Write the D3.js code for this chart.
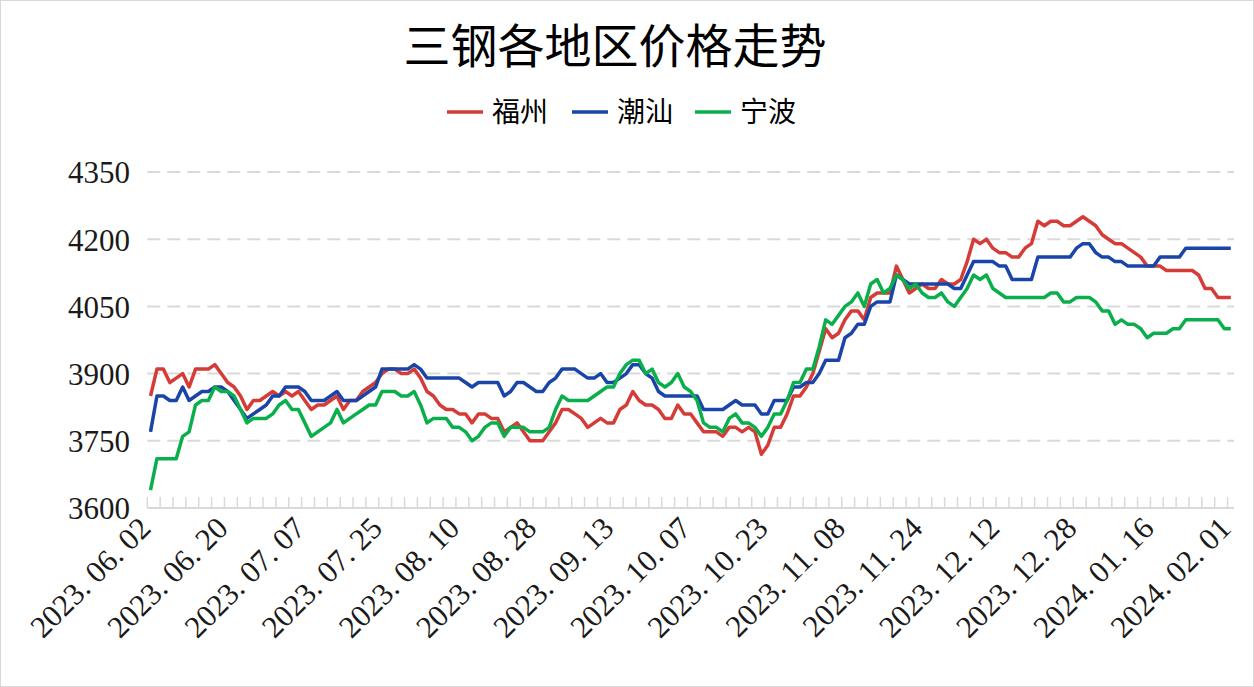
<!DOCTYPE html>
<html>
<head>
<meta charset="utf-8">
<script src="https://cdn.jsdelivr.net/npm/d3@7"></script>
<style>
  body { margin: 0; background: #fff; }
  svg { display: block; }
</style>
</head>
<body>
<svg id="chart"></svg>
<script>
// trading days shown on the category axis
const dates = [
  '2023.06.02','2023.06.05','2023.06.06','2023.06.07','2023.06.08','2023.06.09','2023.06.12','2023.06.13','2023.06.14','2023.06.15',
  '2023.06.16','2023.06.19','2023.06.20','2023.06.21','2023.06.25','2023.06.26','2023.06.27','2023.06.28','2023.06.29','2023.06.30',
  '2023.07.03','2023.07.04','2023.07.05','2023.07.06','2023.07.07','2023.07.10','2023.07.11','2023.07.12','2023.07.13','2023.07.14',
  '2023.07.17','2023.07.18','2023.07.19','2023.07.20','2023.07.21','2023.07.24','2023.07.25','2023.07.26','2023.07.27','2023.07.28',
  '2023.07.31','2023.08.01','2023.08.02','2023.08.03','2023.08.04','2023.08.07','2023.08.08','2023.08.09','2023.08.10','2023.08.11',
  '2023.08.14','2023.08.15','2023.08.16','2023.08.17','2023.08.18','2023.08.21','2023.08.22','2023.08.23','2023.08.24','2023.08.25',
  '2023.08.28','2023.08.29','2023.08.30','2023.08.31','2023.09.01','2023.09.04','2023.09.05','2023.09.06','2023.09.07','2023.09.08',
  '2023.09.11','2023.09.12','2023.09.13','2023.09.14','2023.09.15','2023.09.18','2023.09.19','2023.09.20','2023.09.21','2023.09.22',
  '2023.09.25','2023.09.26','2023.09.27','2023.09.28','2023.10.07','2023.10.08','2023.10.09','2023.10.10','2023.10.11','2023.10.12',
  '2023.10.13','2023.10.16','2023.10.17','2023.10.18','2023.10.19','2023.10.20','2023.10.23','2023.10.24','2023.10.25','2023.10.26',
  '2023.10.27','2023.10.30','2023.10.31','2023.11.01','2023.11.02','2023.11.03','2023.11.06','2023.11.07','2023.11.08','2023.11.09',
  '2023.11.10','2023.11.13','2023.11.14','2023.11.15','2023.11.16','2023.11.17','2023.11.20','2023.11.21','2023.11.22','2023.11.23',
  '2023.11.24','2023.11.27','2023.11.28','2023.11.29','2023.11.30','2023.12.01','2023.12.04','2023.12.05','2023.12.06','2023.12.07',
  '2023.12.08','2023.12.11','2023.12.12','2023.12.13','2023.12.14','2023.12.15','2023.12.18','2023.12.19','2023.12.20','2023.12.21',
  '2023.12.22','2023.12.25','2023.12.26','2023.12.27','2023.12.28','2023.12.29','2024.01.02','2024.01.03','2024.01.04','2024.01.05',
  '2024.01.08','2024.01.09','2024.01.10','2024.01.11','2024.01.12','2024.01.15','2024.01.16','2024.01.17','2024.01.18','2024.01.19',
  '2024.01.22','2024.01.23','2024.01.24','2024.01.25','2024.01.26','2024.01.29','2024.01.30','2024.01.31','2024.02.01'
];

// 福州
const fuzhou = [
  3850,3910,3910,3880,3890,3900,3870,3910,3910,3910,3920,3900,3880,3870,3850,3820,3840,3840,3850,3860,
  3850,3860,3850,3860,3840,3820,3830,3830,3840,3850,3820,3840,3840,3860,3870,3880,3900,3910,3910,3900,
  3900,3910,3890,3860,3850,3830,3820,3820,3810,3810,3790,3810,3810,3800,3800,3770,3780,3790,3770,3750,
  3750,3750,3770,3790,3820,3820,3810,3800,3780,3790,3800,3790,3790,3820,3830,3860,3840,3830,3830,3820,
  3800,3800,3830,3810,3810,3790,3770,3770,3770,3760,3780,3780,3770,3780,3770,3720,3740,3780,3780,3810,
  3850,3850,3870,3900,3950,4000,3980,3990,4020,4040,4040,4020,4070,4080,4080,4080,4140,4110,4080,4090,
  4100,4090,4090,4110,4100,4100,4110,4150,4200,4190,4200,4180,4170,4170,4160,4160,4180,4190,4240,4230,
  4240,4240,4230,4230,4240,4250,4240,4230,4210,4200,4190,4190,4180,4170,4160,4140,4140,4140,4130,4130,
  4130,4130,4130,4120,4090,4090,4070,4070,4070
];

// 潮汕
const chaoshan = [
  3770,3850,3850,3840,3840,3870,3840,3850,3860,3860,3870,3870,3860,3840,3820,3800,3810,3820,3830,3850,
  3850,3870,3870,3870,3860,3840,3840,3840,3850,3860,3840,3840,3840,3850,3860,3870,3910,3910,3910,3910,
  3910,3920,3910,3890,3890,3890,3890,3890,3890,3880,3870,3880,3880,3880,3880,3850,3860,3880,3880,3870,
  3860,3860,3880,3890,3910,3910,3910,3900,3890,3890,3900,3880,3880,3890,3900,3920,3920,3900,3890,3860,
  3850,3850,3850,3850,3850,3850,3820,3820,3820,3820,3830,3840,3830,3830,3830,3810,3810,3840,3840,3840,
  3870,3870,3880,3880,3900,3930,3930,3930,3980,3990,4010,4010,4050,4060,4060,4060,4120,4110,4100,4100,
  4100,4100,4100,4100,4100,4090,4090,4120,4150,4150,4150,4150,4140,4140,4110,4110,4110,4110,4160,4160,
  4160,4160,4160,4160,4180,4190,4190,4170,4160,4160,4150,4150,4140,4140,4140,4140,4140,4160,4160,4160,
  4160,4180,4180,4180,4180,4180,4180,4180,4180
];

// 宁波
const ningbo = [
  3640,3710,3710,3710,3710,3760,3770,3830,3840,3840,3870,3860,3860,3850,3820,3790,3800,3800,3800,3810,
  3830,3840,3820,3820,3790,3760,3770,3780,3790,3820,3790,3800,3810,3820,3830,3830,3860,3860,3860,3850,
  3850,3860,3830,3790,3800,3800,3800,3780,3780,3770,3750,3760,3780,3790,3790,3760,3780,3780,3780,3770,
  3770,3770,3780,3820,3850,3840,3840,3840,3840,3850,3860,3870,3870,3900,3920,3930,3930,3900,3910,3880,
  3870,3880,3900,3870,3860,3840,3790,3780,3780,3770,3800,3810,3790,3790,3780,3760,3780,3810,3810,3840,
  3880,3880,3910,3910,3960,4020,4010,4030,4050,4060,4080,4050,4100,4110,4080,4090,4120,4110,4090,4100,
  4080,4070,4070,4080,4060,4050,4070,4090,4120,4110,4120,4090,4080,4070,4070,4070,4070,4070,4070,4070,
  4080,4080,4060,4060,4070,4070,4070,4060,4040,4040,4010,4020,4010,4010,4000,3980,3990,3990,3990,4000,
  4000,4020,4020,4020,4020,4020,4020,4000,4000
];

const yTicks = [3600, 3750, 3900, 4050, 4200, 4350];

const series = [
  { name: '福州', values: fuzhou, color: '#d63c37' },
  { name: '潮汕', values: chaoshan, color: '#1a45a8' },
  { name: '宁波', values: ningbo, color: '#0aaf4c' }
];

const W = 1254, H = 687;
const plot = { left: 147.3, right: 1234, top: 172, bottom: 508 };

const svg = d3.select('#chart')
  .attr('width', W)
  .attr('height', H);

// outer frame
svg.append('rect')
  .attr('x', 0.5).attr('y', 0.5)
  .attr('width', W - 1).attr('height', H - 1)
  .attr('fill', '#fff')
  .attr('stroke', '#d9d9d9');

// scales
const x = d3.scaleBand()
  .domain(dates)
  .range([plot.left, plot.right]);

const cx = d => x(d) + x.bandwidth() / 2;

const y = d3.scaleLinear()
  .domain([3600, 4350])
  .range([plot.bottom, plot.top]);

// title
svg.append('text')
  .attr('x', 615).attr('y', 63)
  .attr('text-anchor', 'middle')
  .style('font-family', '"Noto Sans CJK SC", sans-serif')
  .style('font-size', '47px')
  .attr('fill', '#000')
  .text('三钢各地区价格走势');

// legend
const legendX = [447, 572, 695];
const legend = svg.append('g').attr('class', 'legend');
series.forEach((s, i) => {
  const g = legend.append('g').attr('transform', `translate(${legendX[i]}, 112)`);
  g.append('line')
    .attr('x1', 0).attr('x2', 36)
    .attr('stroke', s.color)
    .attr('stroke-width', 3.5);
  g.append('text')
    .attr('x', 45).attr('y', 10)
    .style('font-family', '"Noto Sans CJK SC", sans-serif')
    .style('font-size', '28px')
    .attr('fill', '#000')
    .text(s.name);
});

// y gridlines + labels
const yAxis = d3.axisLeft(y)
  .tickValues(yTicks)
  .tickSize(0)
  .tickPadding(0)
  .tickFormat(d3.format('d'));

const yg = svg.append('g')
  .attr('transform', 'translate(130, 0)')
  .call(yAxis);
yg.select('.domain').remove();
yg.selectAll('text')
  .attr('dy', '0.35em')
  .style('font-family', '"Liberation Serif", serif')
  .style('font-size', '31px')
  .attr('fill', '#1a1a1a');

svg.append('g')
  .selectAll('line')
  .data(yTicks.filter(d => d > 3600))
  .enter()
  .append('line')
  .attr('x1', plot.left).attr('x2', plot.right)
  .attr('y1', d => y(d)).attr('y2', d => y(d))
  .attr('stroke', '#d9d9d9')
  .attr('stroke-width', 2)
  .attr('stroke-dasharray', '13,7');

// x axis line and inside tick marks every 2 categories
svg.append('line')
  .attr('x1', plot.left).attr('x2', plot.right)
  .attr('y1', plot.bottom).attr('y2', plot.bottom)
  .attr('stroke', '#d9d9d9')
  .attr('stroke-width', 2);

svg.append('g')
  .selectAll('line')
  .data(dates.filter((d, i) => i % 2 === 0))
  .enter()
  .append('line')
  .attr('x1', d => x(d)).attr('x2', d => x(d))
  .attr('y1', plot.bottom - 11).attr('y2', plot.bottom)
  .attr('stroke', '#d9d9d9')
  .attr('stroke-width', 1.5);

// date labels every 12 categories, the dots get a little extra room
const xAxis = d3.axisBottom(x)
  .tickValues(dates.filter((d, i) => i % 12 === 0))
  .tickSize(0)
  .tickPadding(0)
  .tickFormat('');

const xg = svg.append('g')
  .attr('transform', `translate(0, ${plot.bottom})`)
  .call(xAxis);
xg.select('.domain').remove();
xg.selectAll('.tick text').each(function(d) {
  const t = d3.select(this)
    .attr('text-anchor', 'end')
    .attr('transform', 'translate(2, 22) rotate(-45)')
    .attr('dy', 0)
    .attr('y', 0)
    .style('font-family', '"Liberation Serif", serif')
    .style('font-size', '31px')
    .attr('fill', '#1a1a1a');
  const parts = d.split('.');
  parts.forEach((p, k) => {
    t.append('tspan')
      .attr('dx', k === 0 ? null : '0.25em')
      .text(k < parts.length - 1 ? p + '.' : p);
  });
});

// lines
const line = d3.line()
  .x((d, i) => cx(dates[i]))
  .y(d => y(d));

svg.append('g')
  .selectAll('path')
  .data(series)
  .enter()
  .append('path')
  .attr('d', d => line(d.values))
  .attr('fill', 'none')
  .attr('stroke', d => d.color)
  .attr('stroke-width', 3.5)
  .attr('stroke-linejoin', 'round');
</script>
</body>
</html>
